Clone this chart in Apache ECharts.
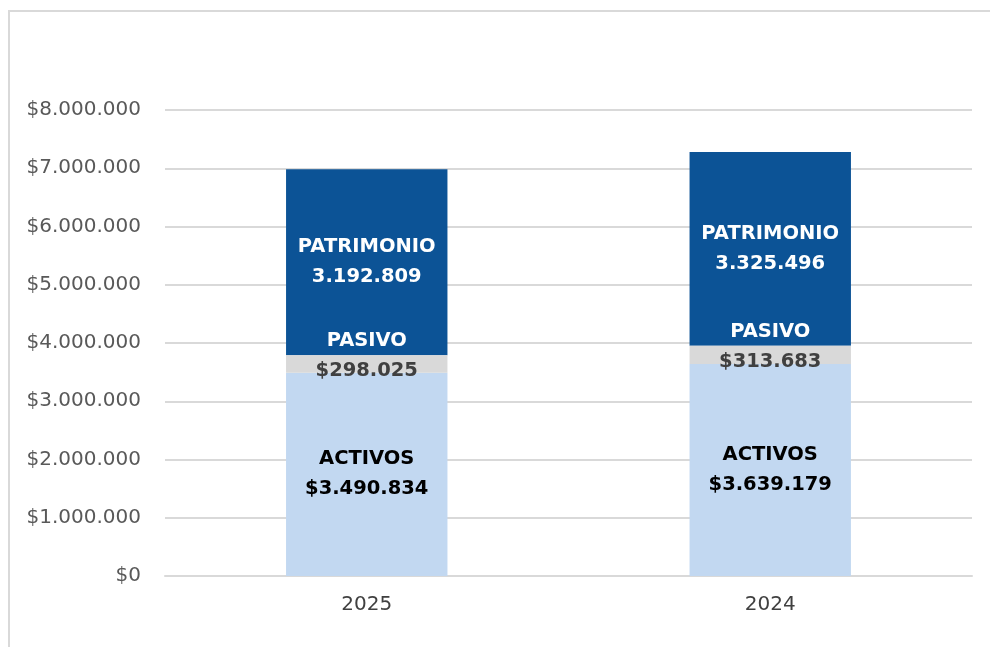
<!DOCTYPE html>
<html>
<head>
<meta charset="utf-8">
<title>Activos, Pasivo y Patrimonio</title>
<script src="https://cdn.jsdelivr.net/npm/echarts@6/dist/echarts.min.js"></script>
<style>
	html, body { margin: 0; padding: 0; background: #fff; }
	#chart { width: 990px; height: 647px; }
</style>
</head>
<body>
<div id="chart"></div>
<script>
	// datos
	var years = ['2025', '2024'];
	var activos = [3490834, 3639179];
	var pasivo = [298025, 313683];
	var patrimonio = [3192809, 3325496];
	var yTicks = [0, 1000000, 2000000, 3000000, 4000000, 5000000, 6000000, 7000000, 8000000];

	var font = '"DejaVu Sans", sans-serif';
	var labelSize = 19.5;

	function miles(v) {
		return String(v).replace(/\B(?=(\d{3})+(?!\d))/g, '.');
	}

	var chart = echarts.init(document.getElementById('chart'));

	var option = {
		animation: false,
		backgroundColor: '#fff',
		textStyle: { fontFamily: font },
		graphic: [{
			type: 'rect',
			shape: { x: 9, y: 11, width: 1000, height: 700 },
			style: { fill: 'none', stroke: '#d9d9d9', lineWidth: 2 },
			silent: true
		}],
		grid: { left: 165, right: 18, top: 110, bottom: 71 },
		xAxis: {
			type: 'category',
			data: years,
			axisLine: { lineStyle: { color: '#d9d9d9', width: 2 } },
			axisTick: { show: false },
			axisLabel: { color: '#404040', fontSize: 20, margin: 19, fontFamily: font }
		},
		yAxis: {
			type: 'value',
			min: yTicks[0],
			max: yTicks[yTicks.length - 1],
			interval: 1000000,
			axisLine: { show: false },
			axisTick: { show: false },
			splitLine: { lineStyle: { color: '#d9d9d9', width: 2 } },
			axisLabel: {
				color: '#595959',
				fontSize: 20,
				margin: 24,
				fontFamily: font,
				formatter: function (v) { return '$' + miles(v); }
			}
		},
		series: [{
			name: 'ACTIVOS',
			type: 'bar',
			stack: 'total',
			barWidth: '40%',
			data: activos,
			itemStyle: { color: '#c2d8f1' },
			label: {
				show: true,
				position: 'inside',
				fontFamily: font,
				formatter: function (p) { return '{a|ACTIVOS}\n{a|$' + miles(p.value) + '}'; },
				rich: { a: { color: '#000', fontSize: labelSize, fontWeight: 'bold', lineHeight: 30, fontFamily: font } }
			}
		}, {
			name: 'PASIVO',
			type: 'bar',
			stack: 'total',
			data: pasivo,
			z: 3,
			itemStyle: { color: '#d9d9d9' },
			label: {
				show: true,
				position: 'inside',
				offset: [0, -8],
				fontFamily: font,
				formatter: function (p) { return '{a|PASIVO}\n{b|$' + miles(p.value) + '}'; },
				rich: {
					a: { color: '#fff', fontSize: labelSize, fontWeight: 'bold', lineHeight: 30, fontFamily: font },
					b: { color: '#404040', fontSize: labelSize, fontWeight: 'bold', lineHeight: 30, fontFamily: font }
				}
			}
		}, {
			name: 'PATRIMONIO',
			type: 'bar',
			stack: 'total',
			data: patrimonio,
			itemStyle: { color: '#0c5396' },
			label: {
				show: true,
				position: 'inside',
				fontFamily: font,
				formatter: function (p) { return '{a|PATRIMONIO}\n{a|' + miles(p.value) + '}'; },
				rich: { a: { color: '#fff', fontSize: labelSize, fontWeight: 'bold', lineHeight: 30, fontFamily: font } }
			}
		}]
	};

	chart.setOption(option);
</script>
</body>
</html>
